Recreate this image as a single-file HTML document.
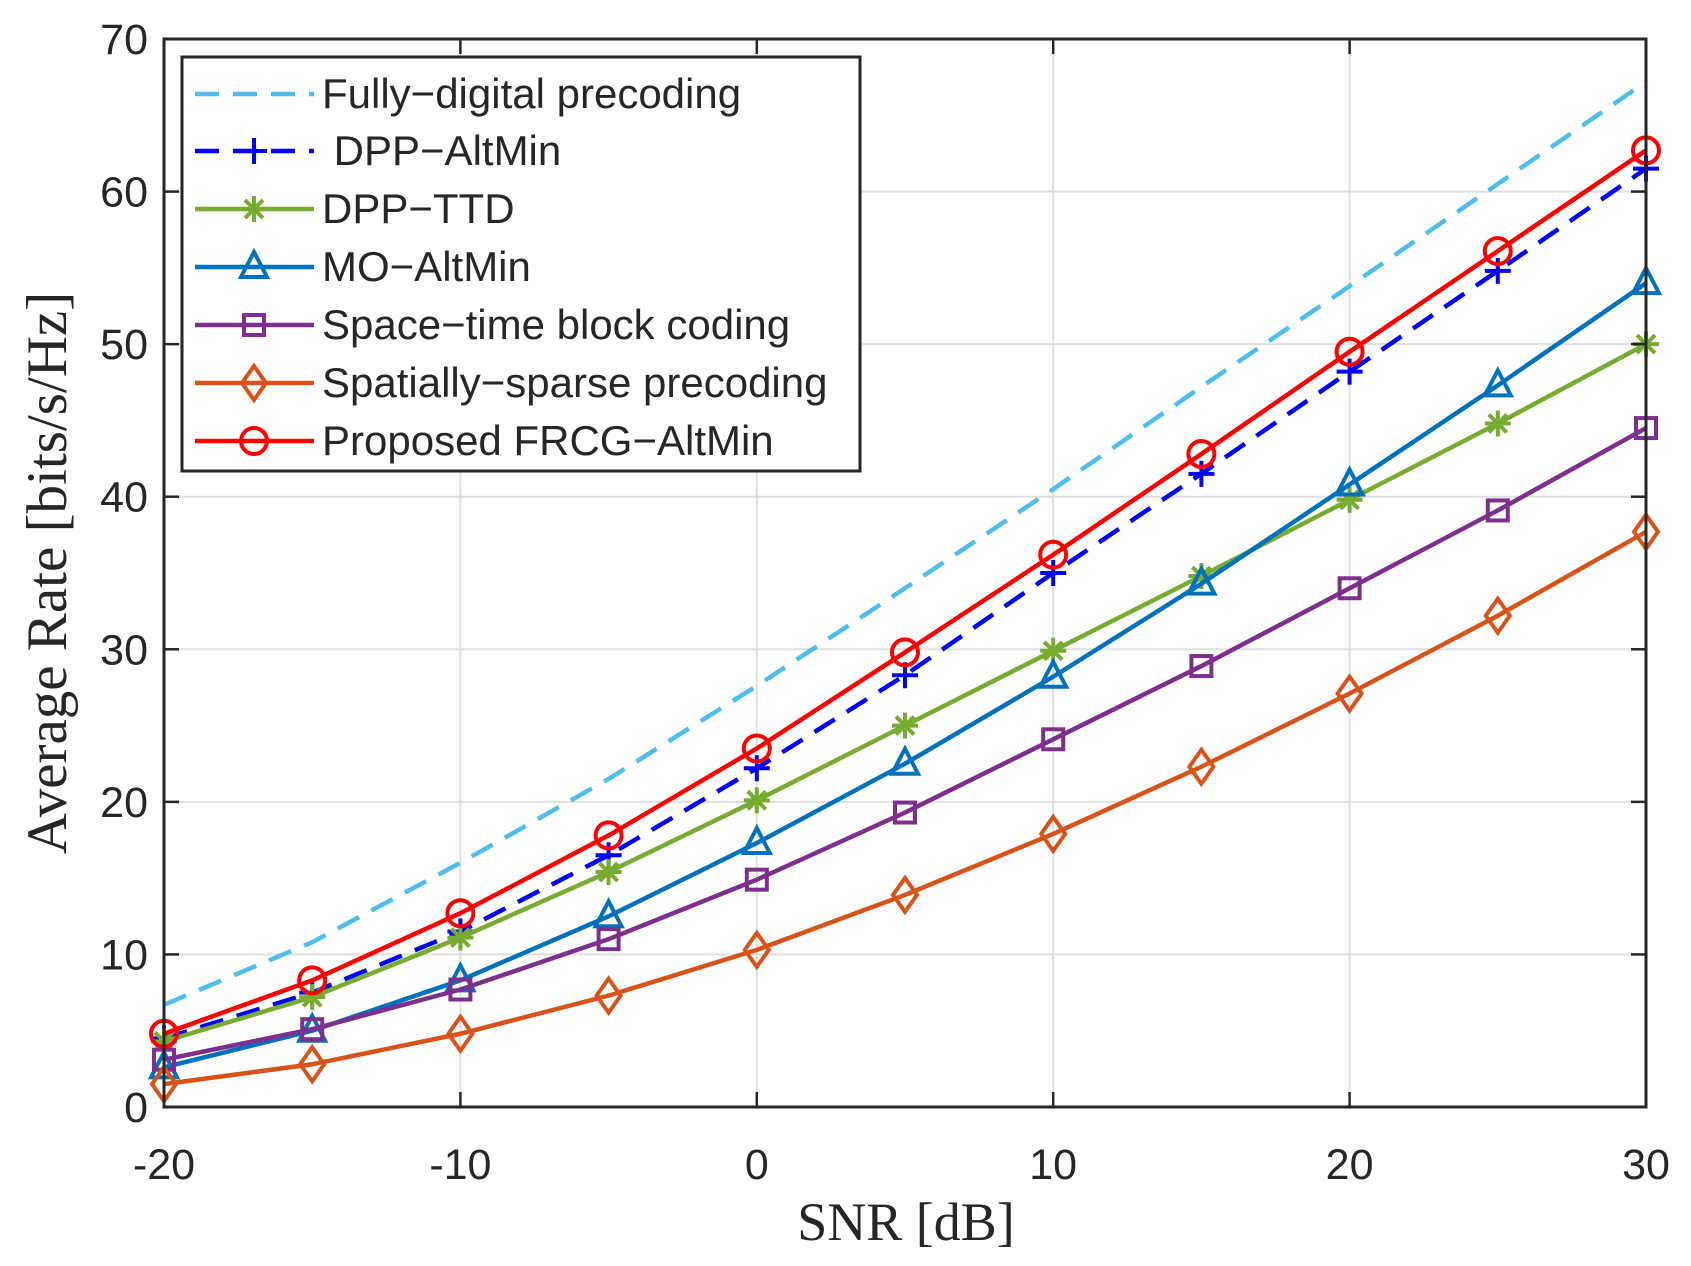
<!DOCTYPE html>
<html><head><meta charset="utf-8"><style>
html,body{margin:0;padding:0;background:#fff;}
svg{display:block;}
text{font-family:"Liberation Sans",sans-serif;fill:#262626;}
</style></head><body>
<svg id="chart" width="1691" height="1266" viewBox="0 0 1691 1266">
<rect width="1691" height="1266" fill="#fff"/>
<g id="grid"></g>
<g id="series"></g>
<g id="axes"></g>
<g id="legend"></g>
<text x="906" y="1240" text-anchor="middle" style="font-family:'Liberation Serif',serif;font-size:54px;fill:#262626">SNR [dB]</text>
<text transform="translate(66,573) rotate(-90)" text-anchor="middle" style="font-family:'Liberation Serif',serif;font-size:57px;fill:#262626">Average Rate [bits/s/Hz]</text>
</svg>
<script>
const snr = [-20,-15,-10,-5,0,5,10,15,20,25,30];
const fullyDigital = [6.7,10.8,16.0,21.5,27.6,34.0,40.5,47.2,53.8,60.5,67.2];
const dppAltMin = [4.5,7.5,11.5,16.5,22.2,28.3,35.0,41.5,48.2,54.8,61.5];
const dppTTD = [4.3,7.2,11.1,15.4,20.1,25.0,29.9,34.8,39.8,44.8,50.0];
const moAltMin = [2.6,5.0,8.3,12.5,17.3,22.5,28.2,34.3,40.8,47.3,54.0];
const stbc = [3.1,5.1,7.7,11.0,14.9,19.3,24.1,28.9,34.0,39.1,44.5];
const sparse = [1.5,2.8,4.8,7.3,10.3,13.9,17.9,22.3,27.1,32.2,37.7];
const proposed = [4.8,8.3,12.7,17.8,23.5,29.8,36.2,42.8,49.5,56.1,62.7];
const xTicks = [-20,-10,0,10,20,30];
const yTicks = [0,10,20,30,40,50,60,70];
const seriesNames = ["Fully\u2212digital precoding","\u00a0DPP\u2212AltMin","DPP\u2212TTD","MO\u2212AltMin","Space\u2212time block coding","Spatially\u2212sparse precoding","Proposed FRCG\u2212AltMin"];

const L=164,R=1646,T=39,B=1107;
const X=v=>L+(v+20)/50*(R-L);
const Y=v=>B-v/70*(B-T);
const NS="http://www.w3.org/2000/svg";
function mk(tag,attrs,parent){const e=document.createElementNS(NS,tag);for(const k in attrs)e.setAttribute(k,attrs[k]);parent.appendChild(e);return e;}
const grid=document.getElementById('grid'),axes=document.getElementById('axes'),sg=document.getElementById('series'),lg=document.getElementById('legend');

xTicks.forEach(t=>{
  const g=mk('line',{x1:X(t),x2:X(t),y1:T,y2:B,stroke:'#dfdfdf','stroke-width':2},grid);
  
  
  const tk=mk('line',{x1:X(t),x2:X(t),y1:B,y2:B-15,stroke:'#262626','stroke-width':2.5},axes);
  
  
  const tk2=mk('line',{x1:X(t),x2:X(t),y1:T,y2:T+15,stroke:'#262626','stroke-width':2.5},axes);
  
  
  const tx=mk('text',{x:X(t),y:1179,'text-anchor':'middle','font-size':43},axes);
  tx.textContent=t;
  
  
});
yTicks.forEach(t=>{
  const g=mk('line',{x1:L,x2:R,y1:Y(t),y2:Y(t),stroke:'#dfdfdf','stroke-width':2},grid);
  
  
  const tk=mk('line',{x1:L,x2:L+15,y1:Y(t),y2:Y(t),stroke:'#262626','stroke-width':2.5},axes);
  
  
  const tk2=mk('line',{x1:R,x2:R-15,y1:Y(t),y2:Y(t),stroke:'#262626','stroke-width':2.5},axes);
  
  
  const tx=mk('text',{x:148,y:Y(t)+15,'text-anchor':'end','font-size':43},axes);
  tx.textContent=t;
  
  
});
const box=mk('rect',{x:L,y:T,width:R-L,height:B-T,fill:'none',stroke:'#262626','stroke-width':3},axes);



function marker(type,x,y,c,parent){
  const s=13;let e;
  if(type==='plus'){e=mk('path',{d:`M${x-s} ${y}H${x+s}M${x} ${y-s}V${y+s}`,stroke:c,'stroke-width':4,fill:'none'},parent);}
  else if(type==='star'){e=mk('path',{d:`M${x-s} ${y}H${x+s}M${x} ${y-s}V${y+s}M${x-9} ${y-9}L${x+9} ${y+9}M${x-9} ${y+9}L${x+9} ${y-9}`,stroke:c,'stroke-width':4,fill:'none'},parent);}
  else if(type==='tri'){e=mk('path',{d:`M${x} ${y-15}L${x+13} ${y+10}L${x-13} ${y+10}Z`,stroke:c,'stroke-width':4,fill:'none'},parent);}
  else if(type==='sq'){e=mk('rect',{x:x-10,y:y-10,width:20,height:20,stroke:c,'stroke-width':4,fill:'none'},parent);}
  else if(type==='dia'){e=mk('path',{d:`M${x} ${y-17}L${x+12} ${y}L${x} ${y+17}L${x-12} ${y}Z`,stroke:c,'stroke-width':4,fill:'none'},parent);}
  else if(type==='circ'){e=mk('circle',{cx:x,cy:y,r:13,stroke:c,'stroke-width':4,fill:'none'},parent);}
  if(e){
  }
}
const defs=[
 {d:fullyDigital,c:'#4DBEEE',dash:'24 14',m:null,n:'fully-digital'},
 {d:dppAltMin,c:'#0000FF',dash:'24 14',m:'plus',n:'dpp-altmin'},
 {d:dppTTD,c:'#77AC30',dash:null,m:'star',n:'dpp-ttd'},
 {d:moAltMin,c:'#0072BD',dash:null,m:'tri',n:'mo-altmin'},
 {d:stbc,c:'#7E2F8E',dash:null,m:'sq',n:'stbc'},
 {d:sparse,c:'#D95319',dash:null,m:'dia',n:'spatially-sparse'},
 {d:proposed,c:'#FF0000',dash:null,m:'circ',n:'proposed-frcg-altmin'}
];
defs.forEach(s=>{
  const g=mk('g',{},sg);
  
  
  const pts=s.d.map((v,i)=>X(snr[i])+','+Y(v)).join(' ');
  const a={points:pts,fill:'none',stroke:s.c,'stroke-width':4.5};
  if(s.dash)a['stroke-dasharray']=s.dash;
  const pl=mk('polyline',a,g);
  
  
  if(s.m)s.d.forEach((v,i)=>marker(s.m,X(snr[i]),Y(v),s.c,g));
});
const lb=mk('rect',{x:182,y:57,width:678,height:414,fill:'#fff',stroke:'#262626','stroke-width':3},lg);


const ly=[94,151,209,267,325,383,441];
defs.forEach((s,i)=>{
  const g=mk('g',{},lg);
  
  
  const a={x1:195,x2:314,y1:ly[i],y2:ly[i],stroke:s.c,'stroke-width':4.5};
  if(s.dash)a['stroke-dasharray']='24 14';
  mk('line',a,g);
  if(s.m)marker(s.m,254,ly[i],s.c,g);
  const t=mk('text',{x:322,y:ly[i]+14,'font-size':42,fill:'#000'},g);
  t.textContent=seriesNames[i];
  
  
});
</script>
</body></html>
